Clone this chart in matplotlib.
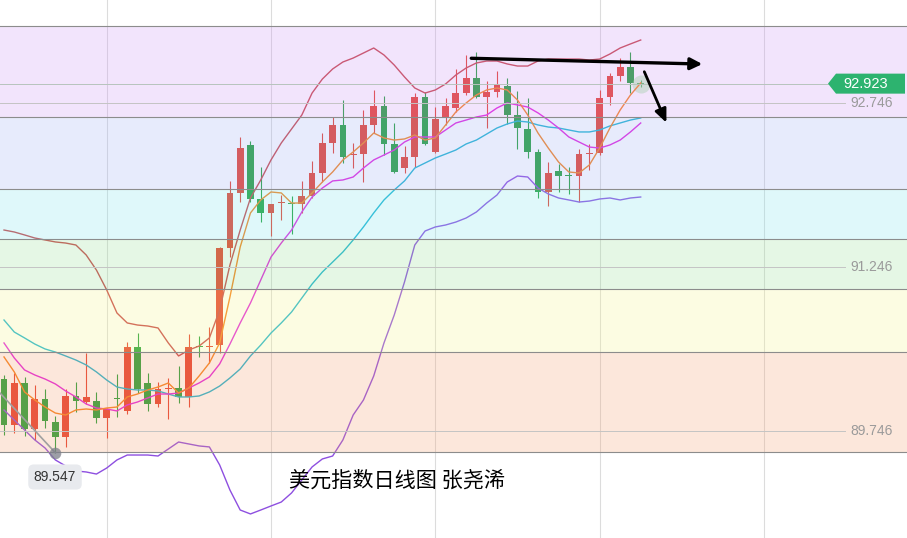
import numpy as np
import matplotlib.pyplot as plt
import matplotlib.transforms as mtransforms
from matplotlib.patches import Rectangle, Polygon

plt.rcParams['font.family'] = ['Liberation Sans', 'DejaVu Sans']

# daily candles (price)
opens = [90.221, 89.801, 90.185, 89.764, 90.038, 89.828, 89.691, 90.066, 90.011, 90.020,
         89.865, 90.048, 89.929, 90.514, 90.185, 89.993, 90.130, 90.139, 90.057, 90.523,
         90.514, 90.532, 91.420, 91.923, 92.362, 91.868, 91.740, 91.831, 91.831, 91.822,
         91.895, 92.106, 92.380, 92.545, 92.270, 92.279, 92.545, 92.718, 92.371, 92.151,
         92.252, 92.801, 92.298, 92.609, 92.700, 92.837, 92.975, 92.801, 92.847, 92.901,
         92.636, 92.508, 92.298, 91.932, 92.124, 92.087, 92.078, 92.279, 92.289, 92.801,
         92.993, 93.075, 92.929]
highs = [90.258, 90.276, 90.240, 90.167, 90.130, 89.883, 90.130, 90.194, 90.459, 90.103,
         89.956, 90.267, 90.560, 90.642, 90.276, 90.194, 90.231, 90.340, 90.633, 90.615,
         90.697, 91.430, 92.033, 92.435, 92.398, 92.161, 91.822, 91.904, 91.895, 92.033,
         92.215, 92.471, 92.618, 92.773, 92.380, 92.682, 92.865, 92.810, 92.563, 92.353,
         92.837, 92.847, 92.709, 92.792, 93.057, 93.185, 93.212, 92.947, 93.039, 92.975,
         92.856, 92.792, 92.325, 92.206, 92.188, 92.161, 92.325, 92.371, 92.865, 93.020,
         93.157, 93.212, 92.956]
lows = [89.709, 89.728, 89.700, 89.664, 89.773, 89.547, 89.600, 89.920, 89.993, 89.819,
        89.682, 89.874, 89.901, 90.093, 89.929, 89.965, 89.855, 90.002, 89.965, 90.423,
        90.368, 90.459, 91.337, 91.840, 91.840, 91.657, 91.529, 91.676, 91.548, 91.740,
        91.877, 92.023, 92.289, 92.197, 92.151, 92.023, 92.471, 92.270, 92.106, 92.106,
        92.161, 92.362, 92.289, 92.545, 92.664, 92.819, 92.792, 92.517, 92.801, 92.554,
        92.325, 92.243, 91.877, 91.804, 91.932, 91.914, 91.840, 92.133, 92.270, 92.728,
        92.947, 92.837, 92.892]
closes = [89.801, 90.185, 89.764, 90.038, 89.837, 89.691, 90.066, 90.020, 90.057, 89.865,
          89.947, 90.038, 90.514, 90.130, 89.993, 90.130, 90.139, 90.057, 90.514, 90.514,
          90.523, 91.420, 91.923, 92.334, 91.868, 91.740, 91.822, 91.840, 91.822, 91.895,
          92.106, 92.380, 92.545, 92.252, 92.279, 92.545, 92.718, 92.371, 92.115, 92.252,
          92.801, 92.371, 92.600, 92.718, 92.837, 92.975, 92.801, 92.847, 92.911, 92.636,
          92.517, 92.298, 91.932, 92.106, 92.078, 92.078, 92.279, 92.289, 92.792, 92.993,
          93.075, 92.929, 92.923]

# bollinger bands and moving averages
boll_up = [91.584, 91.566, 91.539, 91.511, 91.493, 91.475, 91.465, 91.447, 91.356, 91.218,
           91.036, 90.825, 90.734, 90.715, 90.706, 90.688, 90.551, 90.432, 90.487, 90.523,
           90.597, 90.853, 91.264, 91.584, 91.877, 92.042, 92.225, 92.380, 92.508, 92.636,
           92.837, 92.965, 93.057, 93.121, 93.157, 93.203, 93.249, 93.185, 93.093, 92.984,
           92.883, 92.837, 92.865, 92.920, 93.002, 93.066, 93.112, 93.130, 93.130, 93.103,
           93.084, 93.084, 93.130, 93.148, 93.148, 93.148, 93.148, 93.139, 93.148, 93.194,
           93.249, 93.286, 93.322]
boll_mid = [90.761, 90.651, 90.597, 90.541, 90.496, 90.468, 90.432, 90.395, 90.350, 90.286,
            90.212, 90.148, 90.130, 90.121, 90.121, 90.112, 90.084, 90.057, 90.057, 90.066,
            90.103, 90.157, 90.231, 90.313, 90.432, 90.532, 90.642, 90.734, 90.834, 90.962,
            91.090, 91.200, 91.291, 91.383, 91.493, 91.612, 91.740, 91.859, 91.950, 92.033,
            92.151, 92.197, 92.243, 92.279, 92.316, 92.371, 92.407, 92.462, 92.517, 92.554,
            92.581, 92.572, 92.545, 92.526, 92.517, 92.499, 92.481, 92.481, 92.499, 92.536,
            92.563, 92.590, 92.609]
boll_low = [89.938, 89.846, 89.755, 89.664, 89.590, 89.481, 89.426, 89.380, 89.371, 89.352,
            89.407, 89.481, 89.526, 89.526, 89.526, 89.517, 89.581, 89.645, 89.627, 89.609,
            89.600, 89.435, 89.206, 89.023, 88.987, 89.023, 89.060, 89.096, 89.179, 89.298,
            89.417, 89.490, 89.517, 89.664, 89.892, 90.029, 90.249, 90.551, 90.807, 91.109,
            91.447, 91.575, 91.612, 91.630, 91.657, 91.694, 91.749, 91.831, 91.904, 92.023,
            92.078, 92.069, 91.968, 91.914, 91.877, 91.859, 91.840, 91.849, 91.868, 91.877,
            91.859, 91.877, 91.886]
ma5 = [90.423, 90.286, 90.103, 90.029, 89.965, 89.910, 89.892, 89.938, 89.947, 89.938,
       89.956, 89.965, 90.057, 90.084, 90.121, 90.148, 90.185, 90.093, 90.139, 90.249,
       90.368, 90.551, 90.971, 91.429, 91.740, 91.859, 91.932, 91.923, 91.831, 91.831,
       91.923, 92.023, 92.115, 92.225, 92.298, 92.380, 92.471, 92.426, 92.407, 92.417,
       92.453, 92.407, 92.426, 92.545, 92.664, 92.746, 92.819, 92.865, 92.883, 92.865,
       92.773, 92.636, 92.471, 92.334, 92.206, 92.115, 92.106, 92.179, 92.334, 92.517,
       92.682, 92.819, 92.929]
ma10 = [90.551, 90.414, 90.304, 90.258, 90.221, 90.176, 90.112, 90.057, 89.993, 89.956,
        89.947, 89.929, 89.984, 90.011, 90.048, 90.084, 90.084, 90.093, 90.139, 90.185,
        90.240, 90.359, 90.541, 90.734, 90.917, 91.127, 91.337, 91.465, 91.584, 91.749,
        91.886, 91.968, 92.033, 92.042, 92.069, 92.151, 92.225, 92.270, 92.316, 92.389,
        92.435, 92.435, 92.435, 92.499, 92.563, 92.590, 92.618, 92.636, 92.700, 92.746,
        92.728, 92.709, 92.655, 92.590, 92.517, 92.435, 92.389, 92.343, 92.334, 92.362,
        92.407, 92.481, 92.563]

# fibonacci zones (top to bottom) and their tints
fib_levels = [93.450, 92.618, 91.960, 91.502, 91.045, 90.469, 89.554]
fib_colors = ['#cf97f7', '#a3b3f7', '#83e7ef', '#9be39b', '#f7f78f', '#f7a373']
axis_labels = [92.746, 91.246, 89.746]
last_price = 92.923
low_price = 89.547
low_index = 5
title = '美元指数日线图 张尧浠'

W, H = 907, 538
fig = plt.figure(figsize=(W / 100, H / 100), dpi=100)
ax = fig.add_axes([0, 0, 1, 1])
ax.set_xlim(-0.39, 87.93)
ax.set_ylim(88.767, 93.688)
ax.axis('off')

x = np.arange(len(closes))

# vertical grid
for xv in [10, 26, 42, 58, 74]:
    ax.axvline(xv, color='#dcdcdc', lw=0.8, zorder=1)

# candles
up_c, dn_c = '#e5402e', '#22a03a'
for i in range(len(closes)):
    o, h, l, c = opens[i], highs[i], lows[i], closes[i]
    col = up_c if c >= o else dn_c
    ax.vlines(i, l, h, color=col, lw=0.8, zorder=2)
    body = max(abs(c - o), 0.009)
    ax.add_patch(Rectangle((i - 0.33, min(o, c)), 0.66, body, color=col, lw=0, zorder=2))

ax.scatter([x[-1]], [last_price], s=170, color='#9fe39a', alpha=0.45, lw=0, zorder=2)

ax.plot(x, boll_up, color='#c8454a', lw=1.0, zorder=3)
ax.plot(x, boll_low, color='#8e4fe0', lw=1.0, zorder=3)
ax.plot(x, boll_mid, color='#1fb4d2', lw=1.0, zorder=3)
ax.plot(x, ma10, color='#e224e0', lw=1.0, zorder=3)
ax.plot(x, ma5, color='#f5821f', lw=1.0, zorder=3)

# tinted fibonacci zones laid over everything
for top, bot, col in zip(fib_levels[:-1], fib_levels[1:], fib_colors):
    ax.axhspan(bot, top, color=col, alpha=0.25, lw=0, zorder=4)
for lv in fib_levels:
    ax.axhline(lv, color='#8c8c8c', lw=0.8, zorder=5)

blend = mtransforms.blended_transform_factory(ax.transAxes, ax.transData)

for v in axis_labels:
    ax.axhline(v, xmin=0, xmax=845 / W, color='#c4c4c4', lw=0.7, zorder=5)
    ax.text(893 / W, v, f'{v:.3f}', transform=blend, ha='right', va='center',
            color='#9a9a9a', fontsize=10, zorder=6)

# last price marker
ax.axhline(last_price, xmin=0, xmax=828 / W, color='#b7c4bd', lw=0.7, zorder=5)
hh = 0.0915
badge = Polygon([(828 / W, last_price), (836 / W, last_price + hh), (905 / W, last_price + hh),
                 (905 / W, last_price - hh), (836 / W, last_price - hh)],
                closed=True, transform=blend, color='#2db36f', lw=0, zorder=6)
ax.add_patch(badge)
ax.text(866 / W, last_price, f'{last_price:.3f}', transform=blend, ha='center', va='center',
        color='white', fontsize=10.5, zorder=7)

# low marker
ax.plot([-0.39, low_index], [90.093, low_price], color='#a0a0a0', lw=1.2, zorder=6)
ax.scatter([low_index], [low_price], s=70, color='#7d7f8a', alpha=0.75, lw=0, zorder=7)
ax.text(55 / W, 1 - 477 / H, f'{low_price:.3f}', transform=ax.transAxes, ha='center',
        va='center', fontsize=10, color='#333333', zorder=7,
        bbox=dict(boxstyle='round,pad=0.4', fc='#e8eaee', ec='none'))

# hand-drawn arrows
ax.annotate('', xy=(68.0, 93.102), xytext=(45.5, 93.155), zorder=8,
            arrowprops=dict(arrowstyle='-|>,head_length=0.7,head_width=0.35', color='black',
                            lw=2.4, shrinkA=0, shrinkB=0))
ax.annotate('', xy=(64.5, 92.566), xytext=(62.35, 93.032), zorder=8,
            arrowprops=dict(arrowstyle='-|>,head_length=0.8,head_width=0.35', color='black',
                            lw=2.0, shrinkA=0, shrinkB=0))

ax.text(289 / W, 1 - 481 / H, title, transform=ax.transAxes, ha='left', va='center',
        fontsize=15.2, color='black', family=['Noto Sans CJK SC', 'DejaVu Sans'], zorder=8)

fig.savefig('out.png', dpi=100)
